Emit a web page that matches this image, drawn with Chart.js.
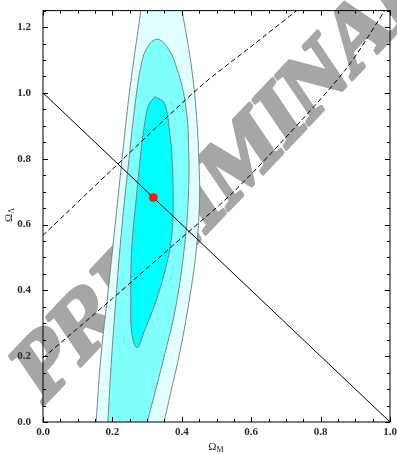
<!DOCTYPE html>
<html>
<head>
<meta charset="utf-8">
<script src="https://cdn.jsdelivr.net/npm/chart.js@4.4.1/dist/chart.umd.min.js"></script>
<style>
  html, body { margin: 0; padding: 0; background: #fff; }
  canvas { display: block; }
</style>
</head>
<body>
<canvas id="chart" width="397" height="454"></canvas>
<script>
// Data (Omega_M on x, Omega_Lambda on y)
const xMajorTicks = [0, 0.2, 0.4, 0.6, 0.8, 1.0];
const yMajorTicks = [0, 0.2, 0.4, 0.6, 0.8, 1.0, 1.2];

// 3 sigma contour (outer, open at the top)
const outerOmegaM = [0.152, 0.153, 0.167, 0.188, 0.208, 0.228, 0.249, 0.282, 0.287,
                     0.397, 0.401, 0.425, 0.441, 0.449, 0.451, 0.441, 0.421, 0.395, 0.363, 0.349, 0.345];
const outerOmegaL = [-0.02, 0.0, 0.2, 0.4, 0.6, 0.8, 1.0, 1.25, 1.28,
                     1.28, 1.25, 1.10, 0.95, 0.80, 0.667, 0.517, 0.367, 0.216, 0.066, 0.0, -0.02];

// 2 sigma contour
const midOmegaM = [0.186, 0.187, 0.198, 0.212, 0.228, 0.248, 0.266, 0.284, 0.302, 0.329,
                   0.357, 0.381, 0.410, 0.420, 0.418, 0.406, 0.380, 0.346, 0.317, 0.300, 0.295];
const midOmegaL = [-0.02, 0.0, 0.2, 0.4, 0.6, 0.8, 0.97, 1.09, 1.14, 1.163,
                   1.14, 1.09, 0.97, 0.82, 0.667, 0.517, 0.336, 0.186, 0.066, 0.0, -0.02];

// 1 sigma contour (closed)
const innerOmegaM = [0.323, 0.350, 0.365, 0.372, 0.375, 0.372, 0.358, 0.328, 0.292, 0.271,
                     0.256, 0.253, 0.254, 0.259, 0.269, 0.280, 0.292, 0.304, 0.323];
const innerOmegaL = [0.989, 0.968, 0.878, 0.799, 0.682, 0.577, 0.487, 0.375, 0.276, 0.226,
                     0.270, 0.375, 0.487, 0.577, 0.682, 0.799, 0.900, 0.962, 0.989];

// dashed bands
const upperDashM = [0, 0.2, 0.452, 0.6, 0.731];
const upperDashL = [0.567, 0.768, 1.018, 1.141, 1.25];
const lowerDashM = [0, 0.2, 0.4, 0.54, 0.7, 0.875, 0.985];
const lowerDashL = [0.195, 0.375, 0.56, 0.69, 0.865, 1.075, 1.25];

// flat universe line and best fit
const flatM = [0, 1];
const flatL = [1, 0];
const bestFit = { x: 0.318, y: 0.682 };

const watermarkText = 'PRELIMINARY';

function toPoints(xs, ys) {
    return xs.map((x, i) => ({ x: x, y: ys[i] }));
}

const serif = '"Liberation Serif", "Times New Roman", serif';

// watermark behind everything
const watermark = {
    id: 'watermark',
    beforeDraw(chart) {
        const ctx = chart.ctx;
        ctx.save();
        ctx.translate(42, 406);
        ctx.rotate(-46.5 * Math.PI / 180);
        ctx.transform(1, 0, -0.22, 1, 0, 0);
        ctx.font = 'bold 88px ' + serif;
        ctx.fillStyle = '#a6a6a6';
        ctx.strokeStyle = '#a6a6a6';
        ctx.lineWidth = 4;
        ctx.lineJoin = 'round';
        ctx.textBaseline = 'alphabetic';
        ctx.fillText(watermarkText, 0, 0);
        ctx.strokeText(watermarkText, 0, 0);
        ctx.restore();
    }
};

// frame with inward ticks on all four sides
const frame = {
    id: 'frame',
    afterDatasetsDraw(chart) {
        const ctx = chart.ctx;
        const a = chart.chartArea;
        const xs = chart.scales.x, ys = chart.scales.y;
        ctx.save();
        ctx.strokeStyle = '#000';
        ctx.lineWidth = 1;
        ctx.strokeRect(a.left, a.top, a.right - a.left, a.bottom - a.top);
        ctx.beginPath();
        for (let i = 0; i <= 20; i++) {
            const v = i * 0.05;
            const len = i % 4 === 0 ? 5 : 3;
            const px = Math.round(xs.getPixelForValue(v)) + 0.5;
            ctx.moveTo(px, a.bottom); ctx.lineTo(px, a.bottom - len);
            ctx.moveTo(px, a.top); ctx.lineTo(px, a.top + len);
        }
        for (let i = 0; i <= 25; i++) {
            const v = i * 0.05;
            const len = i % 4 === 0 ? 5 : 3;
            const py = Math.round(ys.getPixelForValue(v)) + 0.5;
            ctx.moveTo(a.left, py); ctx.lineTo(a.left + len, py);
            ctx.moveTo(a.right, py); ctx.lineTo(a.right - len, py);
        }
        ctx.stroke();
        ctx.restore();
    },
    afterDraw(chart) {
        const ctx = chart.ctx;
        ctx.save();
        ctx.fillStyle = '#222';
        ctx.textBaseline = 'alphabetic';
        // x title: Omega_M
        ctx.font = '11px ' + serif;
        let w1 = ctx.measureText('Ω').width;
        ctx.font = '8px ' + serif;
        let w2 = ctx.measureText('M').width;
        let x0 = 216 - (w1 + w2) / 2;
        ctx.font = '11px ' + serif;
        ctx.fillText('Ω', x0, 450);
        ctx.font = '8px ' + serif;
        ctx.fillText('M', x0 + w1, 452);
        // y title: Omega_Lambda, rotated
        ctx.translate(12, 215);
        ctx.rotate(-Math.PI / 2);
        ctx.font = '11px ' + serif;
        w1 = ctx.measureText('Ω').width;
        ctx.font = '8px ' + serif;
        w2 = ctx.measureText('Λ').width;
        x0 = -(w1 + w2) / 2;
        ctx.font = '11px ' + serif;
        ctx.fillText('Ω', x0, 0);
        ctx.font = '8px ' + serif;
        ctx.fillText('Λ', x0 + w1, 2);
        ctx.restore();
    }
};

const contourLine = 'rgba(110,120,120,0.9)';
const tickFont = { family: serif, size: 11, weight: 'bold' };

new Chart(document.getElementById('chart'), {
    type: 'scatter',
    data: {
        datasets: [
            {
                data: [bestFit], pointRadius: 4, pointBackgroundColor: '#ff1a1a',
                pointBorderColor: '#e00000', pointBorderWidth: 0.5, showLine: false, order: 0
            },
            {
                data: toPoints(flatM, flatL), showLine: true, pointRadius: 0,
                borderColor: '#000', borderWidth: 1, order: 1, clip: 0
            },
            {
                data: toPoints(upperDashM, upperDashL), showLine: true, pointRadius: 0,
                borderColor: '#000', borderWidth: 1, borderDash: [5, 3], tension: 0.3, order: 2, clip: 0
            },
            {
                data: toPoints(lowerDashM, lowerDashL), showLine: true, pointRadius: 0,
                borderColor: '#000', borderWidth: 1, borderDash: [5, 3], tension: 0.3, order: 3, clip: 0
            },
            {
                data: toPoints(innerOmegaM, innerOmegaL), showLine: true, pointRadius: 0,
                borderColor: contourLine, borderWidth: 1, backgroundColor: '#00ffff',
                fill: 'shape', tension: 0.4, order: 4, clip: 0
            },
            {
                data: toPoints(midOmegaM, midOmegaL), showLine: true, pointRadius: 0,
                borderColor: contourLine, borderWidth: 1, backgroundColor: '#80ffff',
                fill: 'shape', tension: 0.4, order: 5, clip: 0
            },
            {
                data: toPoints(outerOmegaM, outerOmegaL), showLine: true, pointRadius: 0,
                borderColor: contourLine, borderWidth: 1, backgroundColor: '#e0ffff',
                fill: 'shape', tension: 0.4, order: 6, clip: 0
            }
        ]
    },
    options: {
        responsive: false,
        animation: false,
        devicePixelRatio: 1,
        layout: { padding: { top: 6, right: 7, left: 0, bottom: 0 } },
        plugins: { legend: { display: false }, tooltip: { enabled: false } },
        scales: {
            x: {
                type: 'linear', min: 0, max: 1,
                grid: { display: false }, border: { display: false },
                afterBuildTicks: s => { s.ticks = xMajorTicks.map(v => ({ value: v })); },
                afterFit: s => { s.height = 32; },
                ticks: {
                    padding: -4, color: '#2a2a2a', font: tickFont,
                    callback: v => v.toFixed(1)
                }
            },
            y: {
                type: 'linear', min: 0, max: 1.25,
                grid: { display: false }, border: { display: false },
                afterBuildTicks: s => { s.ticks = yMajorTicks.map(v => ({ value: v })); },
                afterFit: s => { s.width = 43; },
                ticks: {
                    padding: 4, color: '#2a2a2a', font: tickFont,
                    callback: v => v.toFixed(1)
                }
            }
        }
    },
    plugins: [watermark, frame]
});
</script>
</body>
</html>
